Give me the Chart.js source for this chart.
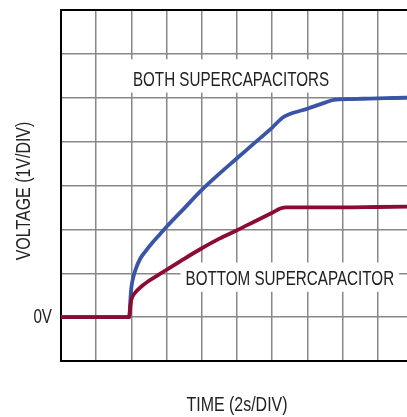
<!DOCTYPE html>
<html>
<head>
<meta charset="utf-8">
<script src="https://cdn.jsdelivr.net/npm/chart.js@4.4.1/dist/chart.umd.min.js"></script>
<style>
  html, body { margin: 0; padding: 0; background: #fff; overflow: hidden; }
  #wrap { width: 420px; height: 417px; }
</style>
</head>
<body>
<div id="wrap"><canvas id="scope" width="420" height="417"></canvas></div>
<script>
// Charging waveforms, time in seconds (2s per division), volts (1V per division)
const bothTime  = [0, 3.88, 3.92, 3.96, 4.0, 4.1, 4.25, 4.5, 4.8, 5.2, 5.6, 6.0, 7.0, 8.0, 9.0, 10.0, 11.0, 12.0, 12.6, 13.0, 14.0, 15.0, 15.5, 16.5, 17.5, 18.5, 19.5, 20.5];
const bothVolts = [0, 0, 0.25, 0.5, 0.68, 0.9, 1.1, 1.33, 1.5, 1.7, 1.88, 2.06, 2.48, 2.9, 3.27, 3.62, 3.97, 4.32, 4.55, 4.63, 4.75, 4.89, 4.95, 4.97, 4.98, 4.99, 5.0, 5.0];

const bottomTime  = [0, 3.88, 3.92, 3.96, 4.0, 4.2, 4.6, 5.0, 5.6, 6.0, 7.0, 8.0, 9.0, 10.0, 11.0, 12.0, 12.5, 12.8, 14.0, 16.0, 18.0, 20.5];
const bottomVolts = [0, 0, 0.15, 0.3, 0.4, 0.55, 0.71, 0.83, 0.98, 1.08, 1.33, 1.57, 1.79, 1.98, 2.18, 2.38, 2.48, 2.5, 2.5, 2.5, 2.51, 2.52];

// graticule: -1V..7V, 0..20s
const yMin = -1, yMax = 7, xMin = 0, xMax = 20;

const FONT = '"Liberation Sans", Arial, sans-serif';
const SQUEEZE = 0.76;   // condensed look for all captions
const INK = '#222';

const toPoints = (xs, ys) => xs.map((x, i) => ({ x: x, y: ys[i] }));

// trace labels sit on white boxes that hide the graticule behind them
const traceLabels = [
    { text: 'BOTH SUPERCAPACITORS', x: 9.66, y: 5.44, padX: 10, padTop: 12, padBottom: 7 },
    { text: 'BOTTOM SUPERCAPACITOR', x: 13.0, y: 0.9, padX: 5, padTop: 8, padBottom: 7 }
];

// draws condensed text with its baseline at (x, y)
function squeezedText(ctx, text, x, y, size, align) {
    ctx.save();
    ctx.translate(x, y);
    ctx.scale(SQUEEZE, 1);
    ctx.font = size + 'px ' + FONT;
    ctx.textAlign = align;
    ctx.textBaseline = 'alphabetic';
    ctx.fillStyle = INK;
    ctx.fillText(text, 0, 0);
    ctx.restore();
}

const captions = {
    id: 'captions',
    beforeDatasetsDraw(chart) {
        const { ctx, scales: { x, y } } = chart;
        const size = 20, cap = size * 0.716;
        ctx.save();
        ctx.font = size + 'px ' + FONT;
        traceLabels.forEach(l => {
            const cx = x.getPixelForValue(l.x);
            const cy = y.getPixelForValue(l.y);
            const w = ctx.measureText(l.text).width * SQUEEZE;
            const top = cy - cap / 2 - l.padTop;
            const bottom = cy + cap / 2 + l.padBottom;
            ctx.fillStyle = '#fff';
            ctx.fillRect(cx - w / 2 - l.padX, top, w + 2 * l.padX, bottom - top);
            squeezedText(ctx, l.text, cx, cy + cap / 2, size, 'center');
        });
        ctx.restore();
    },
    afterDraw(chart) {
        const { ctx, chartArea, scales: { y } } = chart;
        // zero marker on the left
        squeezedText(ctx, '0V', chartArea.left - 9, y.getPixelForValue(0) + 6, 20, 'right');
        // horizontal axis caption
        squeezedText(ctx, 'TIME (2s/DIV)', (chartArea.left + chartArea.right) / 2, 411, 21, 'center');
        // vertical axis caption
        ctx.save();
        ctx.translate(30, 191);
        ctx.rotate(-Math.PI / 2);
        squeezedText(ctx, 'VOLTAGE (1V/DIV)', 0, 0, 21, 'center');
        ctx.restore();
    }
};

new Chart(document.getElementById('scope'), {
    type: 'line',
    data: {
        datasets: [
            {
                label: 'BOTTOM SUPERCAPACITOR',
                data: toPoints(bottomTime, bottomVolts),
                borderColor: '#8c0b32',
                borderWidth: 3.8,
                pointRadius: 0,
                cubicInterpolationMode: 'monotone',
                borderJoinStyle: 'round'
            },
            {
                label: 'BOTH SUPERCAPACITORS',
                data: toPoints(bothTime, bothVolts),
                borderColor: '#3a54a6',
                borderWidth: 3.8,
                pointRadius: 0,
                cubicInterpolationMode: 'monotone',
                borderJoinStyle: 'round'
            }
        ]
    },
    options: {
        responsive: false,
        animation: false,
        layout: { padding: { left: 0, top: 10, right: 7, bottom: 0 } },
        plugins: { legend: { display: false }, tooltip: { enabled: false } },
        scales: {
            x: {
                type: 'linear',
                min: xMin,
                max: xMax,
                ticks: { stepSize: 2, display: false },
                grid: { color: '#888', lineWidth: 1.5, drawTicks: false },
                border: { color: '#000', width: 2 },
                afterFit: s => {
                    s.height = 56;
                    s.paddingLeft = s.paddingRight = 0;
                }
            },
            y: {
                min: yMin,
                max: yMax,
                ticks: { stepSize: 1, display: false },
                grid: {
                    drawTicks: false,
                    color: c => (c.tick && c.tick.value === yMax ? '#000' : '#888'),
                    lineWidth: c => (c.tick && c.tick.value === yMax ? 2 : 1.5)
                },
                border: { color: '#000', width: 2 },
                afterFit: s => {
                    s.width = 61;
                    s.paddingTop = s.paddingBottom = 0;
                }
            }
        }
    },
    plugins: [captions]
});
</script>
</body>
</html>
